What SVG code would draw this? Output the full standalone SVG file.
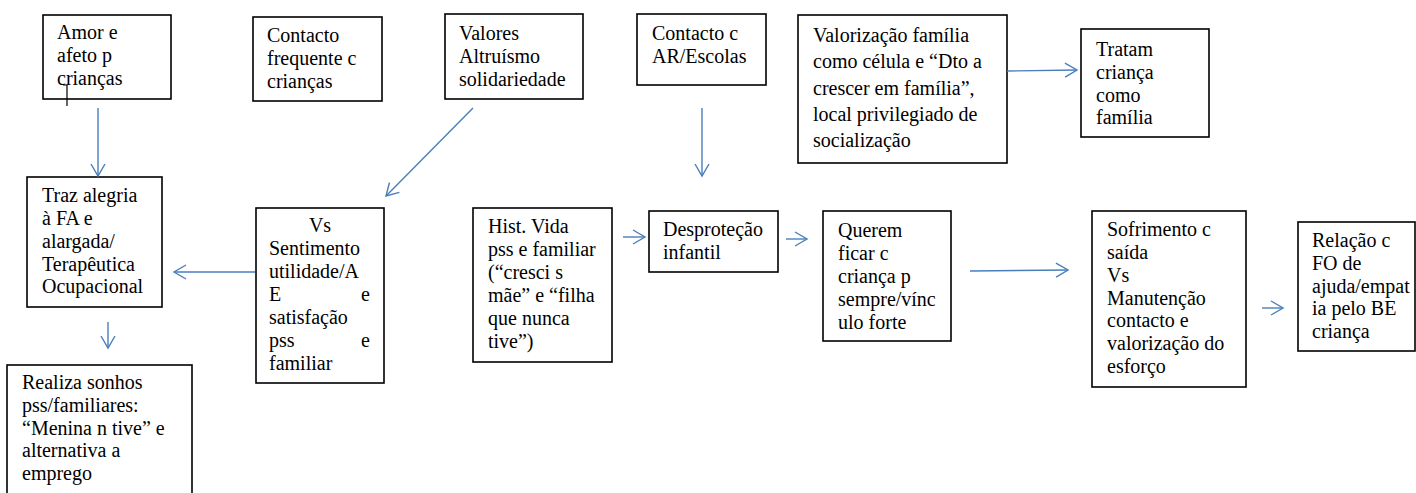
<svg xmlns="http://www.w3.org/2000/svg" width="1416" height="493" viewBox="0 0 1416 493">
<style>
.box{fill:#fff;stroke:#000;stroke-width:1.6}
.t{font-family:'Liberation Serif','Times New Roman',Tinos,'Nimbus Roman','Nimbus Roman No9 L',FreeSerif,'Noto Serif','DejaVu Serif',Georgia,Times,serif;font-size:20px;fill:#000}
.e{text-anchor:end}
.c{text-anchor:middle}
.arr{stroke:#4a7ebb;stroke-width:1.4;fill:none;marker-end:url(#ah)}
</style>
<defs>
<marker id="ah" markerUnits="userSpaceOnUse" markerWidth="16" markerHeight="18" viewBox="0 0 16 18" refX="13" refY="9" orient="auto">
<path d="M1,2 L13,9 L1,16" fill="none" stroke="#4a7ebb" stroke-width="1.4"/>
</marker>
</defs>
<rect width="1416" height="493" fill="#fff"/>

<g id="n-amor">
<rect class="box" x="43" y="15" width="128" height="84"/>
<text class="t" x="57" y="39">Amor e</text>
<text class="t" x="57" y="62">afeto p</text>
<text class="t" x="57" y="85">crianças</text>
<path d="M63,85 H67 V106" fill="none" stroke="#000" stroke-width="1.2"/>
</g>

<g id="n-contacto-freq">
<rect class="box" x="253" y="17" width="129" height="84"/>
<text class="t" x="267" y="42">Contacto</text>
<text class="t" x="267" y="65">frequente c</text>
<text class="t" x="267" y="88">crianças</text>
</g>

<g id="n-valores">
<rect class="box" x="445" y="14" width="138" height="85"/>
<text class="t" x="459" y="40">Valores</text>
<text class="t" x="459" y="63">Altruísmo</text>
<text class="t" x="459" y="86">solidariedade</text>
</g>

<g id="n-contacto-ar">
<rect class="box" x="637" y="14" width="129" height="71"/>
<text class="t" x="652" y="40">Contacto c</text>
<text class="t" x="652" y="63">AR/Escolas</text>
</g>

<g id="n-valorizacao">
<rect class="box" x="798" y="15" width="209" height="148"/>
<text class="t" x="813" y="42">Valorização família</text>
<text class="t" x="813" y="68">como célula e “Dto a</text>
<text class="t" x="813" y="94.5">crescer em família”,</text>
<text class="t" x="813" y="121">local privilegiado de</text>
<text class="t" x="813" y="147">socialização</text>
</g>

<g id="n-tratam">
<rect class="box" x="1081" y="29" width="128" height="108"/>
<text class="t" x="1096" y="56">Tratam</text>
<text class="t" x="1096" y="79">criança</text>
<text class="t" x="1096" y="101.5">como</text>
<text class="t" x="1096" y="124">família</text>
</g>

<g id="n-traz">
<rect class="box" x="27" y="177" width="135" height="130"/>
<text class="t" x="42" y="202">Traz alegria</text>
<text class="t" x="42" y="225">à FA e</text>
<text class="t" x="42" y="248">alargada/</text>
<text class="t" x="42" y="270.5">Terapêutica</text>
<text class="t" x="42" y="293">Ocupacional</text>
</g>

<g id="n-sentimento">
<rect class="box" x="256" y="208" width="128" height="175"/>
<text class="t c" x="320" y="232">Vs</text>
<text class="t" x="269" y="255">Sentimento</text>
<text class="t" x="269" y="278">utilidade/A</text>
<text class="t" x="269" y="301">E</text>
<text class="t e" x="370" y="301">e</text>
<text class="t" x="269" y="324">satisfação</text>
<text class="t" x="269" y="347">pss</text>
<text class="t e" x="370" y="347">e</text>
<text class="t" x="269" y="370">familiar</text>
</g>

<g id="n-realiza">
<rect class="box" x="7" y="365" width="185" height="140"/>
<text class="t" x="22" y="389">Realiza sonhos</text>
<text class="t" x="22" y="412">pss/familiares:</text>
<text class="t" x="22" y="434.5">“Menina n tive” e</text>
<text class="t" x="22" y="457">alternativa a</text>
<text class="t" x="22" y="480">emprego</text>
</g>

<g id="n-hist">
<rect class="box" x="473" y="208" width="139" height="154"/>
<text class="t" x="488" y="233">Hist. Vida</text>
<text class="t" x="488" y="256">pss e familiar</text>
<text class="t" x="488" y="279">(“cresci s</text>
<text class="t" x="488" y="302">mãe” e “filha</text>
<text class="t" x="488" y="325">que nunca</text>
<text class="t" x="488" y="348">tive”)</text>
</g>

<g id="n-desprotecao">
<rect class="box" x="649" y="211" width="129" height="61"/>
<text class="t" x="663" y="236">Desproteção</text>
<text class="t" x="663" y="259">infantil</text>
</g>

<g id="n-querem">
<rect class="box" x="823" y="211" width="128" height="130"/>
<text class="t" x="838" y="237">Querem</text>
<text class="t" x="838" y="260">ficar c</text>
<text class="t" x="838" y="283">criança p</text>
<text class="t" x="838" y="306">sempre/vínc</text>
<text class="t" x="838" y="329">ulo forte</text>
</g>

<g id="n-sofrimento">
<rect class="box" x="1092" y="211" width="154" height="176"/>
<text class="t" x="1107" y="236">Sofrimento c</text>
<text class="t" x="1107" y="259">saída</text>
<text class="t" x="1107" y="282">Vs</text>
<text class="t" x="1107" y="305">Manutenção</text>
<text class="t" x="1107" y="327">contacto e</text>
<text class="t" x="1107" y="350">valorização do</text>
<text class="t" x="1107" y="373">esforço</text>
</g>

<g id="n-relacao">
<rect class="box" x="1298" y="222" width="117" height="129"/>
<text class="t" x="1312" y="247">Relação c</text>
<text class="t" x="1312" y="270">FO de</text>
<text class="t" x="1312" y="293">ajuda/empat</text>
<text class="t" x="1312" y="315">ia pelo BE</text>
<text class="t" x="1312" y="338">criança</text>
</g>

<g id="connectors">
<line class="arr" x1="98" y1="108" x2="98" y2="176"/>
<line class="arr" x1="473" y1="108" x2="386" y2="196"/>
<line class="arr" x1="255" y1="272" x2="174" y2="272"/>
<line class="arr" x1="108" y1="322" x2="108" y2="348"/>
<line class="arr" x1="702" y1="108" x2="702" y2="176"/>
<line class="arr" x1="1007" y1="71" x2="1077" y2="70"/>
<line class="arr" x1="623" y1="237" x2="645" y2="237"/>
<line class="arr" x1="786" y1="239" x2="807" y2="239"/>
<line class="arr" x1="970" y1="271" x2="1068" y2="270"/>
<line class="arr" x1="1262" y1="308" x2="1283" y2="308"/>
</g>
</svg>
